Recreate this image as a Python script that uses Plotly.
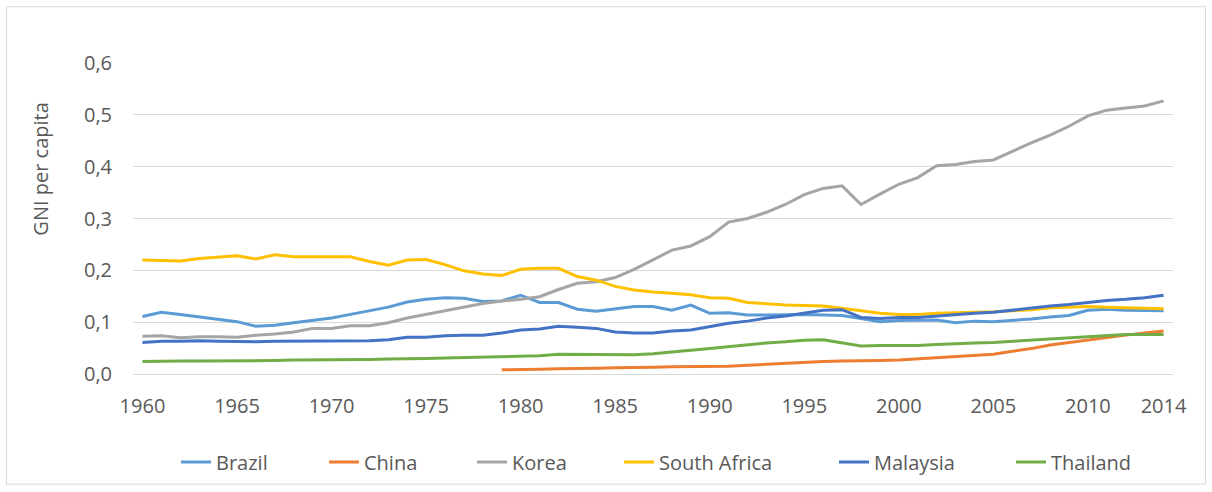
import plotly.graph_objects as go

years = list(range(1960, 2015))

brazil = [0.111, 0.119, 0.115, 0.110, 0.106, 0.101, 0.092, 0.094, 0.099, 0.104,
          0.108, 0.115, 0.122, 0.129, 0.139, 0.144, 0.147, 0.146, 0.140, 0.141,
          0.152, 0.138, 0.138, 0.125, 0.121, 0.125, 0.130, 0.130, 0.123, 0.133,
          0.117, 0.118, 0.114, 0.114, 0.115, 0.115, 0.114, 0.113, 0.107, 0.101,
          0.103, 0.103, 0.104, 0.099, 0.102, 0.101, 0.103, 0.106, 0.110, 0.113,
          0.123, 0.125, 0.123, 0.122, 0.122]

china = [None] * 19 + [
          0.008, 0.008, 0.009, 0.010, 0.010, 0.011, 0.012, 0.012, 0.013, 0.014,
          0.014, 0.014, 0.015, 0.017, 0.019, 0.020, 0.022, 0.024, 0.025, 0.025,
          0.026, 0.027, 0.029, 0.031, 0.033, 0.035, 0.038, 0.044, 0.049, 0.056,
          0.061, 0.066, 0.071, 0.075, 0.079, 0.083]

korea = [0.073, 0.074, 0.070, 0.072, 0.072, 0.071, 0.075, 0.077, 0.081, 0.088,
         0.088, 0.093, 0.093, 0.099, 0.108, 0.115, 0.122, 0.129, 0.136, 0.141,
         0.144, 0.149, 0.163, 0.175, 0.178, 0.186, 0.202, 0.220, 0.239, 0.247,
         0.265, 0.293, 0.300, 0.312, 0.327, 0.346, 0.358, 0.363, 0.327, 0.347,
         0.366, 0.379, 0.402, 0.404, 0.410, 0.413, 0.430, 0.446, 0.461, 0.478,
         0.498, 0.509, 0.513, 0.517, 0.527]

south_africa = [0.220, 0.219, 0.218, 0.223, 0.225, 0.228, 0.222, 0.230, 0.226, 0.226,
                0.226, 0.226, 0.217, 0.210, 0.220, 0.221, 0.211, 0.199, 0.193, 0.190,
                0.202, 0.204, 0.204, 0.188, 0.181, 0.169, 0.162, 0.158, 0.156, 0.153,
                0.147, 0.146, 0.138, 0.135, 0.133, 0.132, 0.131, 0.127, 0.122, 0.117,
                0.115, 0.115, 0.117, 0.118, 0.118, 0.120, 0.122, 0.124, 0.128, 0.129,
                0.130, 0.129, 0.128, 0.127, 0.126]

malaysia = [0.061, 0.063, 0.063, 0.064, 0.063, 0.062, 0.062, 0.063, 0.063, 0.063,
            0.063, 0.064, 0.064, 0.066, 0.071, 0.071, 0.074, 0.075, 0.075, 0.079,
            0.085, 0.087, 0.092, 0.090, 0.088, 0.081, 0.079, 0.079, 0.083, 0.085,
            0.091, 0.098, 0.102, 0.108, 0.112, 0.117, 0.123, 0.124, 0.109, 0.107,
            0.109, 0.109, 0.112, 0.114, 0.117, 0.119, 0.123, 0.128, 0.131, 0.134,
            0.138, 0.142, 0.144, 0.147, 0.152]

thailand = [0.024, 0.025, 0.025, 0.025, 0.025, 0.025, 0.026, 0.026, 0.027, 0.027,
            0.028, 0.028, 0.028, 0.029, 0.029, 0.030, 0.031, 0.032, 0.033, 0.034,
            0.034, 0.035, 0.038, 0.038, 0.037, 0.037, 0.037, 0.039, 0.043, 0.046,
            0.049, 0.053, 0.056, 0.060, 0.062, 0.065, 0.066, 0.060, 0.054, 0.055,
            0.055, 0.055, 0.057, 0.059, 0.060, 0.061, 0.063, 0.066, 0.068, 0.070,
            0.072, 0.074, 0.076, 0.076, 0.076]

names = ["Brazil", "China", "Korea", "South Africa", "Malaysia", "Thailand"]
values = [brazil, china, korea, south_africa, malaysia, thailand]
colors = ["#5B9BD5", "#ED7D31", "#A5A5A5", "#FFC000", "#4472C4", "#70AD47"]

x_tick_vals = [1960, 1965, 1970, 1975, 1980, 1985, 1990, 1995, 2000, 2005, 2010, 2014]
y_tick_vals = [0, 0.1, 0.2, 0.3, 0.4, 0.5, 0.6]

FONT = "Open Sans"
TXT = "#595959"
FS = 20

W, H = 1212, 492
L, T = 133, 63
R = W - 1173
B = H - 375
pw, ph = W - L - R, H - T - B

def px_x(sx):
    return (sx - L) / pw

def px_y(sy):
    return (H - B - sy) / ph

# screen x of the right end of each legend line in the reference
legend_line_end = [212, 360, 508, 655, 870, 1047]

fig = go.Figure()
legend_layouts = {}
for i, (name, vals, color) in enumerate(zip(names, values, colors)):
    lg = "legend" if i == 0 else f"legend{i + 1}"
    fig.add_trace(go.Scatter(x=years, y=vals, mode="lines", name=name,
                             line=dict(color=color, width=3), connectgaps=False,
                             legend=lg))
    legend_layouts[lg] = dict(
        x=px_x(legend_line_end[i] - 36), xanchor="left",
        y=px_y(462), yanchor="middle", orientation="h",
        font=dict(family=FONT, size=FS, color=TXT), bgcolor="rgba(0,0,0,0)",
        itemwidth=30)

fig.update_layout(
    width=W, height=H,
    margin=dict(l=L, r=R, t=T, b=B),
    paper_bgcolor="white", plot_bgcolor="white",
    separators=", ",
    font=dict(family=FONT, size=FS, color=TXT),
    showlegend=True,
    xaxis=dict(range=[1959.5, 2014.5], tickmode="array", tickvals=x_tick_vals,
               ticktext=[str(v) for v in x_tick_vals], showgrid=False, zeroline=False,
               showline=True, linecolor="#D9D9D9", linewidth=1, ticks="",
               tickfont=dict(family=FONT, size=FS, color=TXT), ticklabelstandoff=14),
    yaxis=dict(range=[0, 0.6], tickmode="array", tickvals=y_tick_vals,
               tickformat=".1f", showgrid=True, gridcolor="#D9D9D9", gridwidth=1,
               zeroline=False, showline=False, ticks="",
               tickfont=dict(family=FONT, size=FS, color=TXT), ticklabelstandoff=20),
    **legend_layouts,
)

fig.add_annotation(text="GNI per capita", textangle=-90, showarrow=False,
                   xref="paper", yref="paper", x=px_x(41), y=px_y(170),
                   xanchor="center", yanchor="middle",
                   font=dict(family=FONT, size=FS, color=TXT))

# chart-area border
fig.add_shape(type="rect", xref="paper", yref="paper",
              x0=px_x(6.5), x1=px_x(1205.5), y0=px_y(485.5), y1=px_y(6.5),
              line=dict(color="#D9D9D9", width=1), fillcolor="rgba(0,0,0,0)", layer="below")

fig.write_html("out.html", config={"displayModeBar": False},
               post_script="document.body.style.margin='0px';")
